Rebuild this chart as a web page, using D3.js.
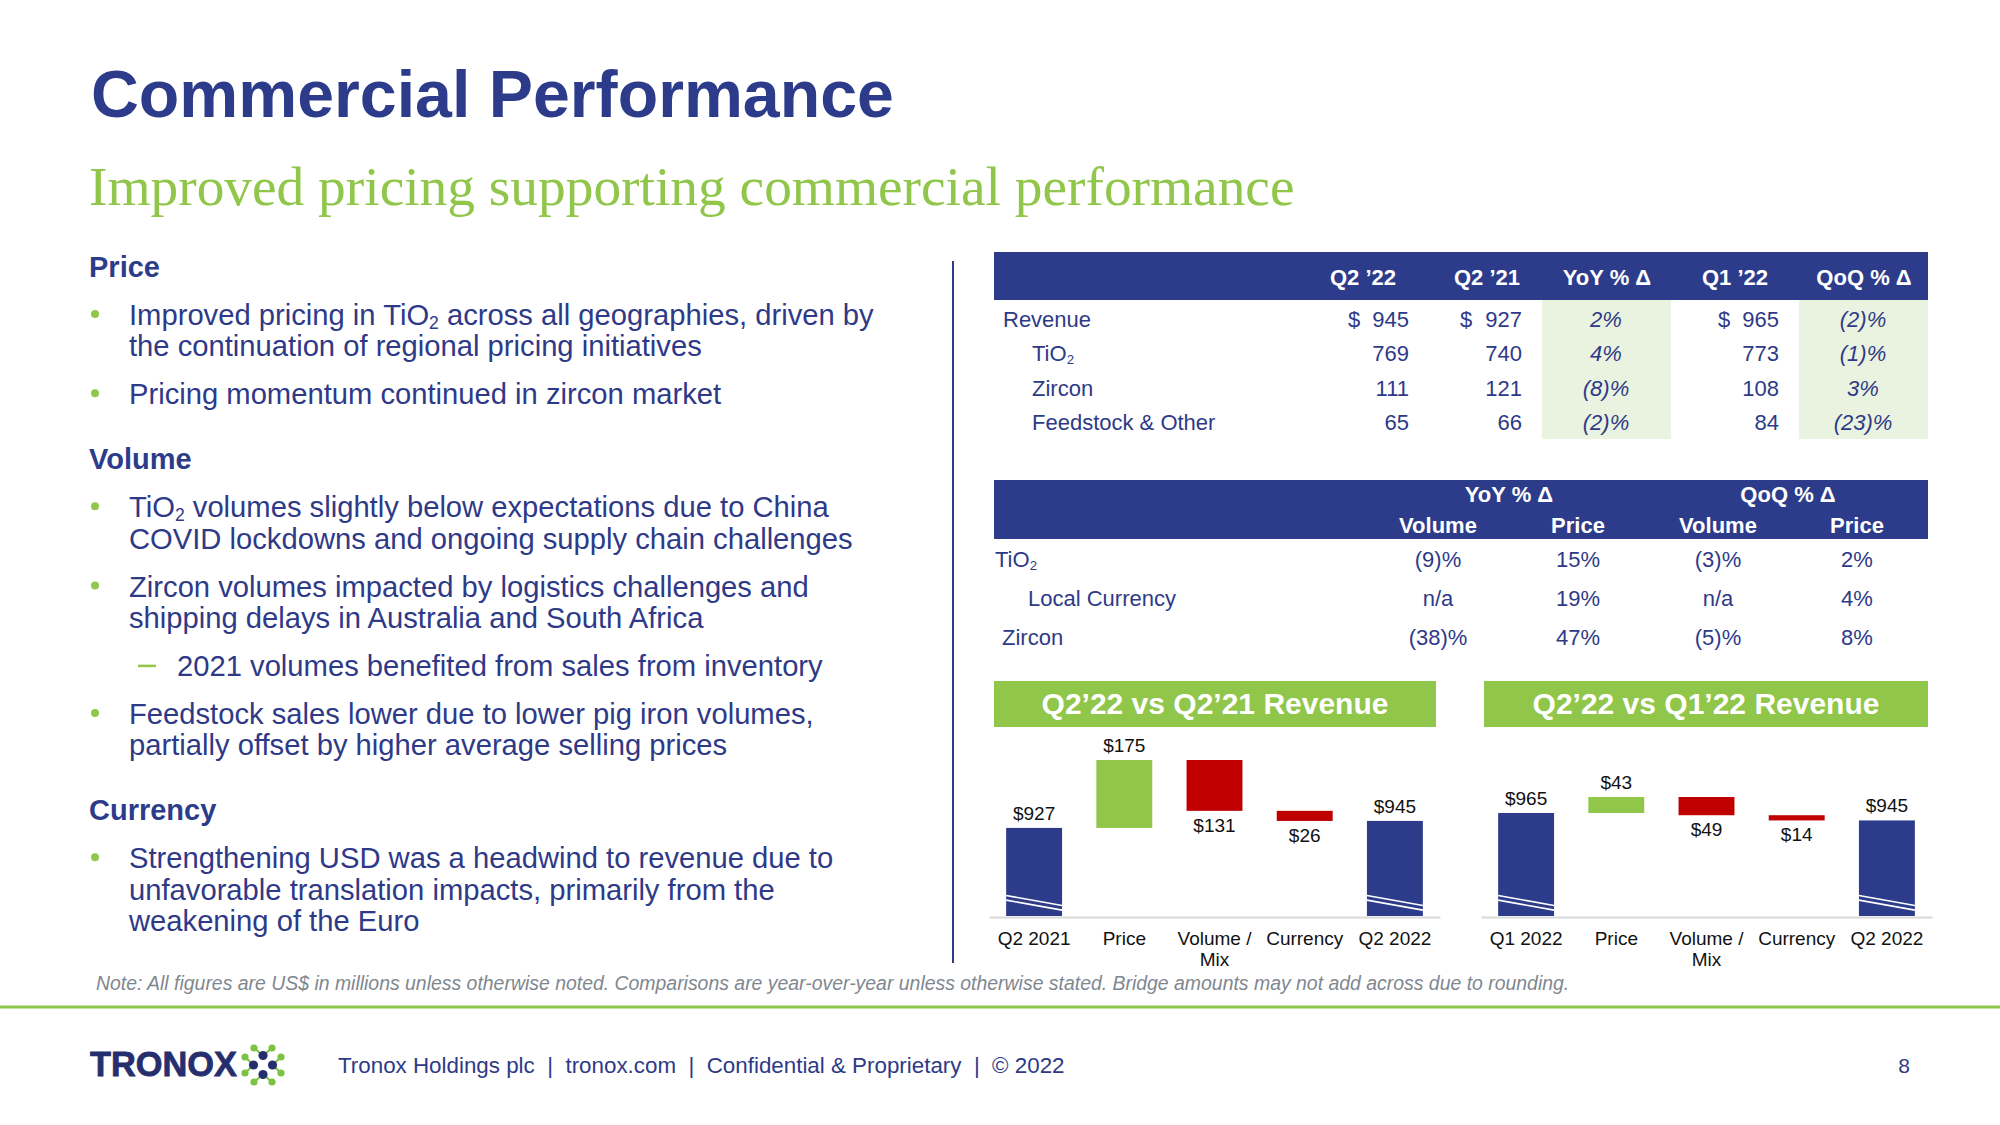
<!DOCTYPE html>
<html><head><meta charset="utf-8">
<script src="https://cdn.jsdelivr.net/npm/d3@7"></script>
<style>html,body{margin:0;padding:0;background:#fff;} svg{display:block;} text{font-family:"Liberation Sans",Arial,sans-serif;}</style>
</head><body><svg id="c" width="2000" height="1125"></svg>
<script>
// ---------------- DATA ----------------
const titleText = "Commercial Performance";
const subtitleText = "Improved pricing supporting commercial performance";

const sectionHeads = ["Price", "Volume", "Currency"];
const sectionItems = [
  [ {lvl:1, lines:["Improved pricing in TiO_2 across all geographies, driven by", "the continuation of regional pricing initiatives"]},
    {lvl:1, lines:["Pricing momentum continued in zircon market"]} ],
  [ {lvl:1, lines:["TiO_2 volumes slightly below expectations due to China", "COVID lockdowns and ongoing supply chain challenges"]},
    {lvl:1, lines:["Zircon volumes impacted by logistics challenges and", "shipping delays in Australia and South Africa"]},
    {lvl:2, lines:["2021 volumes benefited from sales from inventory"]},
    {lvl:1, lines:["Feedstock sales lower due to lower pig iron volumes,", "partially offset by higher average selling prices"]} ],
  [ {lvl:1, lines:["Strengthening USD was a headwind to revenue due to", "unfavorable translation impacts, primarily from the", "weakening of the Euro"]} ]
];

const table1Cols = ["Q2 \u201922", "Q2 \u201921", "YoY % \u0394", "Q1 \u201922", "QoQ % \u0394"];
const table1Rows = ["Revenue", "TiO_2", "Zircon", "Feedstock & Other"];
const q222 = [945, 769, 111, 65];
const q221 = [927, 740, 121, 66];
const yoyPct = ["2%", "4%", "(8)%", "(2)%"];
const q122 = [965, 773, 108, 84];
const qoqPct = ["(2)%", "(1)%", "3%", "(23)%"];

const table2Groups = ["YoY % \u0394", "QoQ % \u0394"];
const table2Sub = ["Volume", "Price", "Volume", "Price"];
const table2Rows = ["TiO_2", "Local Currency", "Zircon"];
const yoyVolume = ["(9)%", "n/a", "(38)%"];
const yoyPrice = ["15%", "19%", "47%"];
const qoqVolume = ["(3)%", "n/a", "(5)%"];
const qoqPrice = ["2%", "4%", "8%"];

const bridge1Title = "Q2\u201922 vs Q2\u201921 Revenue";
const bridge1Cats = ["Q2 2021", "Price", "Volume / Mix", "Currency", "Q2 2022"];
const bridge1Values = [927, 175, -131, -26, 945];
const bridge1Axis = [700, 1102];
const bridge2Title = "Q2\u201922 vs Q1\u201922 Revenue";
const bridge2Cats = ["Q1 2022", "Price", "Volume / Mix", "Currency", "Q2 2022"];
const bridge2Values = [965, 43, -49, -14, 945];
const bridge2Axis = [688, 1008];

const noteText = "Note: All figures are US$ in millions unless otherwise noted. Comparisons are year-over-year unless otherwise stated. Bridge amounts may not add across due to rounding.";
const footerText = "Tronox Holdings plc  |  tronox.com  |  Confidential & Proprietary  |  \u00A9 2022";
const pageNumber = "8";

// ---------------- STYLE ----------------
const NAVY = "#2D3C8A", TEXT = "#2E3A87", GREEN = "#90C64A", RED = "#C00000", LIGHT = "#EAF3DF";
const svg = d3.select("#c");

function fitWidth(sel, target) {
  const w = sel.node().getComputedTextLength();
  const fs = parseFloat(sel.attr("font-size"));
  sel.attr("font-size", fs * target / w);
}
// text with "_2" subscripts, drawn as consecutive text elements
function rich(x, y, str, fs, fill) {
  const parts = str.split(/(_\d)/).filter(p => p);
  let cx = x;
  parts.forEach(p => {
    const isSub = /^_\d$/.test(p);
    const t = svg.append("text").attr("x", cx).attr("y", isSub ? y + fs * 0.12 : y)
      .attr("font-size", isSub ? fs * 0.6 : fs).attr("fill", fill)
      .style("white-space", "pre").text(isSub ? p.slice(1) : p);
    cx += t.node().getComputedTextLength();
  });
}

// ---------------- HEADER ----------------
const title = svg.append("text").attr("x", 91).attr("y", 117).attr("font-size", 67)
  .attr("font-weight", "bold").attr("fill", NAVY).text(titleText);
fitWidth(title, 803);
const sub = svg.append("text").attr("x", 89).attr("y", 205).attr("font-size", 50)
  .attr("fill", GREEN).style("font-family", "'Liberation Serif', Georgia, serif").text(subtitleText);
fitWidth(sub, 1206);

// ---------------- LEFT COLUMN ----------------
{
  const fs = 29.2;
  let y = 277;
  sectionHeads.forEach((h, si) => {
    if (si > 0) y += 65;
    svg.append("text").attr("x", 89).attr("y", y).attr("font-size", 29).attr("font-weight", "bold")
      .attr("fill", NAVY).text(h);
    y += 48;
    sectionItems[si].forEach((it, ii) => {
      if (ii > 0) y += 48;
      if (it.lvl === 1) {
        svg.append("circle").attr("cx", 95).attr("cy", y - 11).attr("r", 4).attr("fill", GREEN);
      } else {
        svg.append("line").attr("x1", 138).attr("x2", 156).attr("y1", y - 10).attr("y2", y - 10)
          .attr("stroke", GREEN).attr("stroke-width", 2.5);
      }
      const tx = it.lvl === 1 ? 129 : 177;
      it.lines.forEach((ln, li) => {
        if (li > 0) y += 31.3;
        rich(tx, y, ln, fs, TEXT);
      });
    });
  });
}

// divider
svg.append("line").attr("x1", 953).attr("x2", 953).attr("y1", 261).attr("y2", 963)
  .attr("stroke", NAVY).attr("stroke-width", 2);

// ---------------- TABLE 1 ----------------
{
  const fs = 22;
  svg.append("rect").attr("x", 994).attr("y", 252).attr("width", 934).attr("height", 48).attr("fill", NAVY);
  const pctCols = [[1542, 1671], [1799, 1928]];
  pctCols.forEach(c => svg.append("rect").attr("x", c[0]).attr("y", 300).attr("width", c[1] - c[0])
    .attr("height", 139).attr("fill", LIGHT));
  const headX = [1363, 1487, 1607, 1735, 1864];
  table1Cols.forEach((c, i) => svg.append("text").attr("x", headX[i]).attr("y", 285)
    .attr("text-anchor", "middle").attr("font-size", fs).attr("font-weight", "bold").attr("fill", "#fff").text(c));
  const rowY = d3.range(table1Rows.length).map(i => 327 + i * 34.4);
  table1Rows.forEach((r, i) => rich(i === 0 ? 1003 : 1032, rowY[i], r, fs, TEXT));
  const numCols = [{v: q222, dx: 1348, rx: 1409}, {v: q221, dx: 1460, rx: 1522}, {v: q122, dx: 1718, rx: 1779}];
  numCols.forEach(c => c.v.forEach((v, i) => {
    if (i === 0) svg.append("text").attr("x", c.dx).attr("y", rowY[i]).attr("font-size", fs).attr("fill", TEXT).text("$");
    svg.append("text").attr("x", c.rx).attr("y", rowY[i]).attr("text-anchor", "end").attr("font-size", fs)
      .attr("fill", TEXT).text(d3.format("d")(v));
  }));
  [[yoyPct, 1606], [qoqPct, 1863]].forEach(([arr, cx]) => arr.forEach((v, i) =>
    svg.append("text").attr("x", cx).attr("y", rowY[i]).attr("text-anchor", "middle").attr("font-size", fs)
      .attr("font-style", "italic").attr("fill", TEXT).text(v)));
}

// ---------------- TABLE 2 ----------------
{
  const fs = 22;
  svg.append("rect").attr("x", 994).attr("y", 480).attr("width", 934).attr("height", 59).attr("fill", NAVY);
  [1509, 1788].forEach((cx, i) => svg.append("text").attr("x", cx).attr("y", 502).attr("text-anchor", "middle")
    .attr("font-size", fs).attr("font-weight", "bold").attr("fill", "#fff").text(table2Groups[i]));
  const colX = [1438, 1578, 1718, 1857];
  table2Sub.forEach((s, i) => svg.append("text").attr("x", colX[i]).attr("y", 533).attr("text-anchor", "middle")
    .attr("font-size", fs).attr("font-weight", "bold").attr("fill", "#fff").text(s));
  const rowY = d3.range(table2Rows.length).map(i => 567 + i * 39);
  const labX = [995, 1028, 1002];
  table2Rows.forEach((r, i) => rich(labX[i], rowY[i], r, fs, TEXT));
  [yoyVolume, yoyPrice, qoqVolume, qoqPrice].forEach((arr, ci) => arr.forEach((v, i) =>
    svg.append("text").attr("x", colX[ci]).attr("y", rowY[i]).attr("text-anchor", "middle").attr("font-size", fs)
      .attr("fill", TEXT).text(v)));
}

// ---------------- WATERFALLS ----------------
function waterfall(ttl, cats, vals, xRange, yDomain, yRange, titleBox) {
  const g = svg.append("g");
  g.append("rect").attr("x", titleBox[0]).attr("y", 681).attr("width", titleBox[1] - titleBox[0]).attr("height", 46).attr("fill", GREEN);
  g.append("text").attr("x", (titleBox[0] + titleBox[1]) / 2).attr("y", 714).attr("text-anchor", "middle")
    .attr("font-size", 30).attr("font-weight", "bold").attr("fill", "#fff").text(ttl);

  const x = d3.scaleBand().domain(cats).range(xRange).paddingInner(0.38).paddingOuter(0.19);
  const y = d3.scaleLinear().domain(yDomain).range(yRange);
  let run = 0;
  const segs = vals.map((v, i) => {
    if (i === 0 || i === vals.length - 1) { run = v; return {cat: cats[i], lo: yDomain[0], hi: v, type: "total", lab: v, down: false}; }
    const s = run; run += v;
    return {cat: cats[i], lo: Math.min(s, run), hi: Math.max(s, run), type: v >= 0 ? "up" : "down", lab: Math.abs(v), down: v < 0};
  });
  const color = {total: NAVY, up: GREEN, down: RED};
  g.selectAll("rect.bar").data(segs).join("rect").attr("class", "bar")
    .attr("x", d => x(d.cat)).attr("width", x.bandwidth())
    .attr("y", d => y(d.hi)).attr("height", d => y(d.lo) - y(d.hi)).attr("fill", d => color[d.type]);
  // axis break marks
  const base = y(yDomain[0]);
  segs.filter(d => d.type === "total").forEach(d => {
    [0, 4.6].forEach(off => g.append("line")
      .attr("x1", x(d.cat)).attr("x2", x(d.cat) + x.bandwidth())
      .attr("y1", base - 20.5 + off).attr("y2", base - 10.5 + off)
      .attr("stroke", "#fff").attr("stroke-width", 1.6));
  });
  g.selectAll("text.val").data(segs).join("text").attr("class", "val")
    .attr("x", d => x(d.cat) + x.bandwidth() / 2)
    .attr("y", d => d.down ? y(d.lo) + 21 : y(d.hi) - 8)
    .attr("text-anchor", "middle").attr("font-size", 19).attr("fill", "#111")
    .text(d => "$" + d.lab);
  const ax = g.append("g").attr("transform", `translate(0,${base + 1})`)
    .call(d3.axisBottom(x).tickSize(0).tickSizeOuter(0).tickPadding(15));
  ax.select(".domain").attr("stroke", "#D9D9D9").attr("stroke-width", 2);
  ax.selectAll(".tick text").attr("font-size", 19).attr("fill", "#111").style("font-family", "'Liberation Sans', Arial, sans-serif")
    .each(function(d) {
      const t = d3.select(this); t.text(null);
      const lines = d.includes("/") ? d.split(/(?<=\/) /) : [d];
      lines.forEach((ln, i) => t.append("tspan").attr("x", 0).attr("dy", i === 0 ? "0.71em" : 21).text(ln));
    });
}
waterfall(bridge1Title, bridge1Cats, bridge1Values, [989, 1440], bridge1Axis, [916, 760], [994, 1436]);
waterfall(bridge2Title, bridge2Cats, bridge2Values, [1481, 1932], bridge2Axis, [916, 797], [1484, 1928]);

// ---------------- NOTE & FOOTER ----------------
const note = svg.append("text").attr("x", 96).attr("y", 990).attr("font-size", 18.5).attr("font-style", "italic")
  .attr("fill", "#7F8790").text(noteText);
fitWidth(note, 1474);
svg.append("rect").attr("x", 0).attr("y", 1005.5).attr("width", 2000).attr("height", 3).attr("fill", GREEN);

const logo = svg.append("text").attr("x", 90).attr("y", 1076).attr("font-size", 32).attr("font-weight", "bold")
  .attr("fill", "#262F6E").attr("stroke", "#262F6E").attr("stroke-width", 0.8).text("TRONOX");
fitWidth(logo, 147);
{
  const cx = 263, cy = 1065;
  const blue = [[0, -9.5], [-9.5, 0], [9.5, 0], [0, 9.5]];
  const green = [[-9, -17], [9, -17], [-18, -8], [18, -8], [-18, 8], [18, 8], [-9, 17], [9, 17]];
  const link = [0, 0, 1, 2, 1, 2, 3, 3];
  green.forEach((p, i) => svg.append("line").attr("x1", cx + p[0]).attr("y1", cy + p[1])
    .attr("x2", cx + blue[link[i]][0]).attr("y2", cy + blue[link[i]][1]).attr("stroke", "#7DC242").attr("stroke-width", 2));
  green.forEach(p => svg.append("circle").attr("cx", cx + p[0]).attr("cy", cy + p[1]).attr("r", 3.6).attr("fill", "#7DC242"));
  blue.forEach(p => svg.append("circle").attr("cx", cx + p[0]).attr("cy", cy + p[1]).attr("r", 4.6).attr("fill", "#262F6E"));
}
const foot = svg.append("text").attr("x", 338).attr("y", 1073).attr("font-size", 21).attr("fill", TEXT)
  .style("white-space", "pre").text(footerText);
fitWidth(foot, 727);
svg.append("text").attr("x", 1910).attr("y", 1073).attr("text-anchor", "end").attr("font-size", 21).attr("fill", TEXT).text(pageNumber);
</script></body></html>
